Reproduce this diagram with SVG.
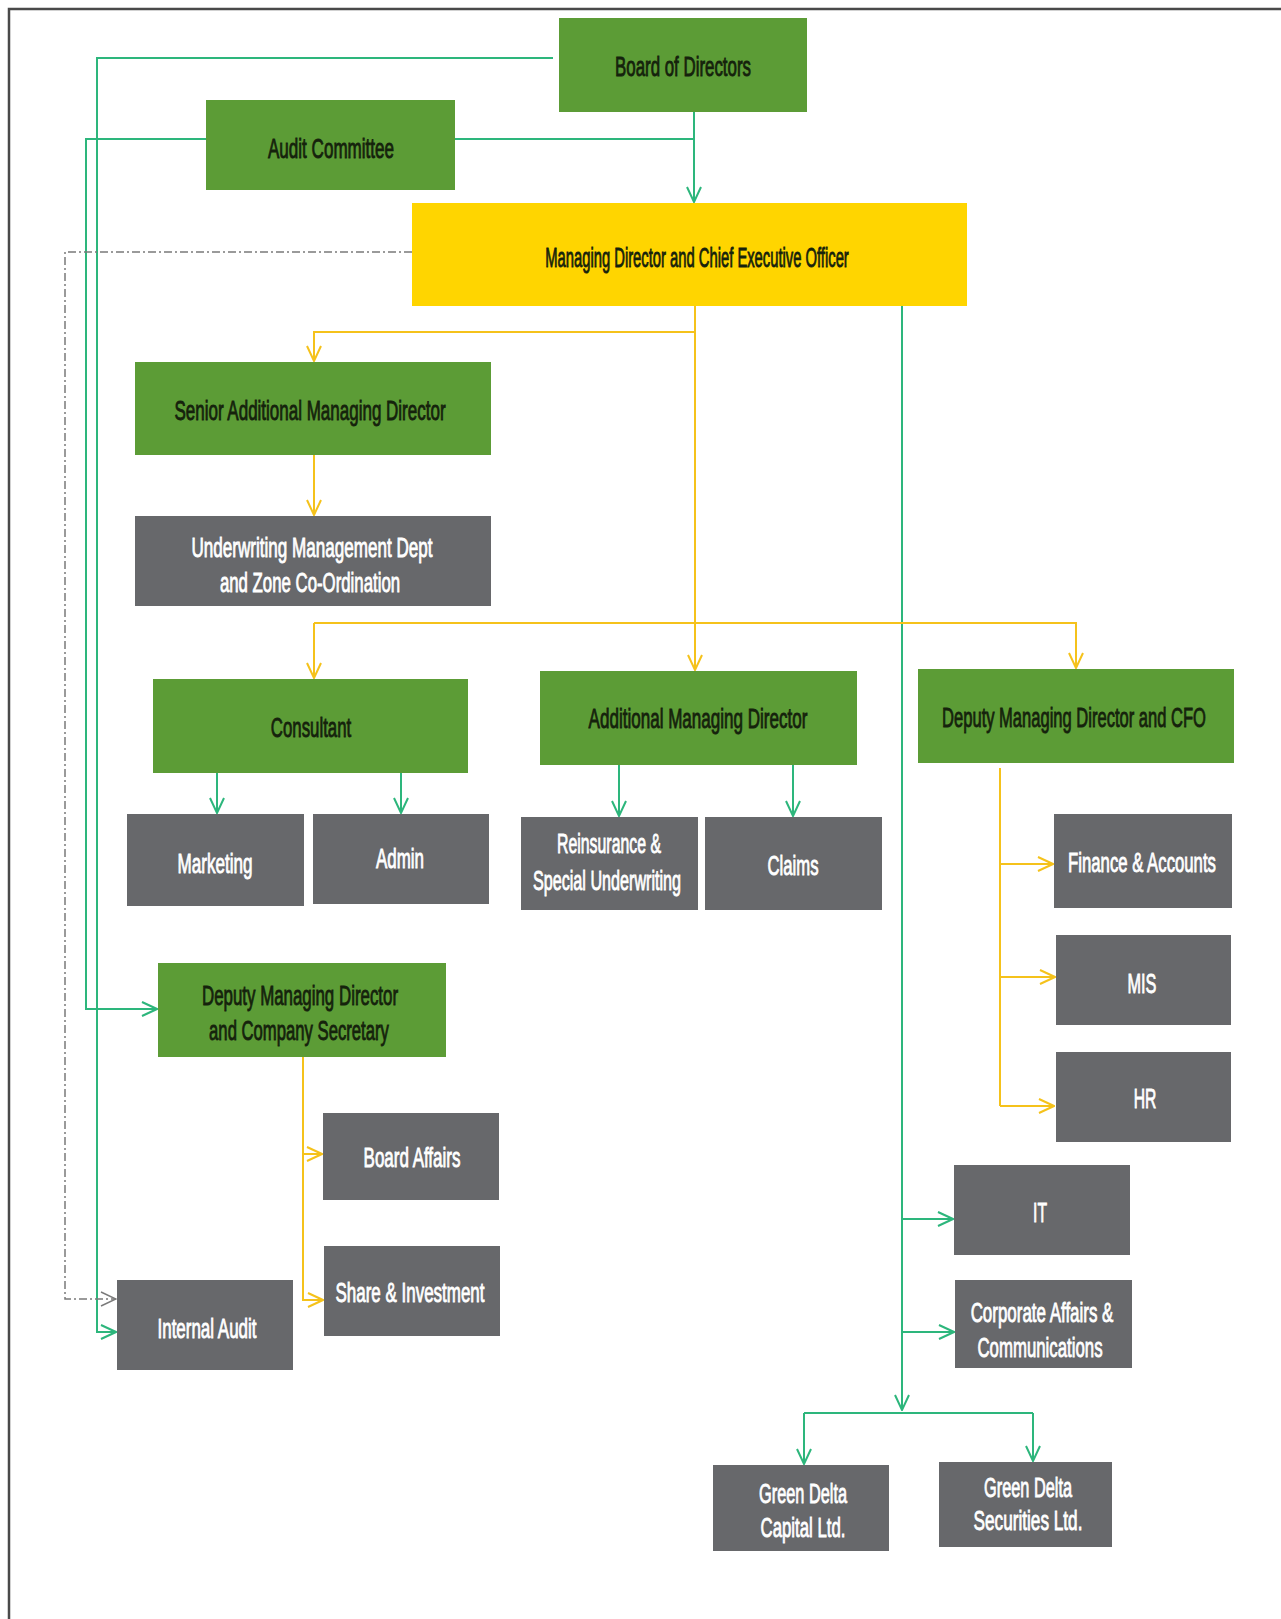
<svg xmlns="http://www.w3.org/2000/svg" width="1281" height="1619" viewBox="0 0 1281 1619">
<style>
.g rect{fill:#5c9c36}
.y rect{fill:#ffd500}
.d rect{fill:#67686b}
text{font-family:"Liberation Sans",Arial,sans-serif;font-size:28px;text-anchor:middle;stroke-width:0.9px}
.g text,.y text{fill:#15220c;stroke:#15220c}
.d text{fill:#ffffff;stroke:#ffffff}
.cg{fill:none;stroke:#2db67c;stroke-width:2}
.cy{fill:none;stroke:#f5c21b;stroke-width:2}
.cd{fill:none;stroke:#7a7a7a;stroke-width:1.5;stroke-dasharray:8 3 2 3}
</style>
<defs>
<marker id="ag" viewBox="0 0 17 16" refX="16" refY="8" markerWidth="17" markerHeight="16" markerUnits="userSpaceOnUse" orient="auto"><path d="M1,1 L16,8 L1,15" fill="none" stroke="#2db67c" stroke-width="2"/></marker>
<marker id="ay" viewBox="0 0 17 16" refX="16" refY="8" markerWidth="17" markerHeight="16" markerUnits="userSpaceOnUse" orient="auto"><path d="M1,1 L16,8 L1,15" fill="none" stroke="#f5c21b" stroke-width="2"/></marker>
<marker id="ad" viewBox="0 0 17 16" refX="16" refY="8" markerWidth="17" markerHeight="16" markerUnits="userSpaceOnUse" orient="auto"><path d="M1,1 L16,8 L1,15" fill="none" stroke="#7a7a7a" stroke-width="1.5"/></marker>
</defs>
<rect width="1281" height="1619" fill="#ffffff"/>
<path d="M9,1619 V9 H1281" fill="none" stroke="#4a4a4a" stroke-width="2.5"/>

<g id="connectors">
<path class="cg" d="M553,58 H97 V1332 H116" marker-end="url(#ag)"/>
<path class="cg" d="M206,139 H86 V1009 H157" marker-end="url(#ag)"/>
<path class="cg" d="M455,139 H694"/>
<path class="cg" d="M694,112 V202" marker-end="url(#ag)"/>
<path class="cg" d="M902,300 V1410" marker-end="url(#ag)"/>
<path class="cg" d="M902,1219 H953" marker-end="url(#ag)"/>
<path class="cg" d="M902,1332 H954" marker-end="url(#ag)"/>
<path class="cg" d="M804,1413 H1033"/>
<path class="cg" d="M804,1413 V1464" marker-end="url(#ag)"/>
<path class="cg" d="M1033,1413 V1461" marker-end="url(#ag)"/>
<path class="cg" d="M217,773 V813" marker-end="url(#ag)"/>
<path class="cg" d="M401,773 V813" marker-end="url(#ag)"/>
<path class="cg" d="M619,765 V816" marker-end="url(#ag)"/>
<path class="cg" d="M793,765 V816" marker-end="url(#ag)"/>

<path class="cy" d="M695,306 V670" marker-end="url(#ay)"/>
<path class="cy" d="M695,332 H314 V361" marker-end="url(#ay)"/>
<path class="cy" d="M314,455 V515" marker-end="url(#ay)"/>
<path class="cy" d="M314,623 H1076 V668" marker-end="url(#ay)"/>
<path class="cy" d="M314,623 V678" marker-end="url(#ay)"/>
<path class="cy" d="M1000,768 V1106"/>
<path class="cy" d="M1000,864 H1053" marker-end="url(#ay)"/>
<path class="cy" d="M1000,977 H1055" marker-end="url(#ay)"/>
<path class="cy" d="M1000,1106 H1054" marker-end="url(#ay)"/>
<path class="cy" d="M303,1057 V1300 H323" marker-end="url(#ay)"/>
<path class="cy" d="M303,1154 H322" marker-end="url(#ay)"/>

<path class="cd" d="M412,252 H65 V1299 H116" marker-end="url(#ad)"/>
</g>

<g id="board" class="g"><rect x="559" y="18" width="248" height="94"/><text transform="translate(683,76) scale(0.603,1)">Board of Directors</text></g>
<g id="audit-committee" class="g"><rect x="206" y="100" width="249" height="90"/><text transform="translate(331,158) scale(0.609,1)">Audit Committee</text></g>
<g id="ceo" class="y"><rect x="412" y="203" width="555" height="103"/><text transform="translate(697,267) scale(0.528,1)">Managing Director and Chief Executive Officer</text></g>
<g id="samd" class="g"><rect x="135" y="362" width="356" height="93"/><text transform="translate(310,420) scale(0.607,1)">Senior Additional Managing Director</text></g>
<g id="underwriting" class="d"><rect x="135" y="516" width="356" height="90"/><text transform="translate(312,557) scale(0.61,1)">Underwriting Management Dept</text><text transform="translate(310,592) scale(0.6,1)">and Zone Co-Ordination</text></g>
<g id="consultant" class="g"><rect x="153" y="679" width="315" height="94"/><text transform="translate(311,737) scale(0.6,1)">Consultant</text></g>
<g id="amd" class="g"><rect x="540" y="671" width="317" height="94"/><text transform="translate(698,728) scale(0.609,1)">Additional Managing Director</text></g>
<g id="dmd-cfo" class="g"><rect x="918" y="669" width="316" height="94"/><text transform="translate(1074,727) scale(0.591,1)">Deputy Managing Director and CFO</text></g>
<g id="marketing" class="d"><rect x="127" y="814" width="177" height="92"/><text transform="translate(215,873) scale(0.61,1)">Marketing</text></g>
<g id="admin" class="d"><rect x="313" y="814" width="176" height="90"/><text transform="translate(400,868) scale(0.605,1)">Admin</text></g>
<g id="reinsurance" class="d"><rect x="521" y="817" width="177" height="93"/><text transform="translate(609,853) scale(0.566,1)">Reinsurance &amp;</text><text transform="translate(607,890) scale(0.577,1)">Special Underwriting</text></g>
<g id="claims" class="d"><rect x="705" y="817" width="177" height="93"/><text transform="translate(793,875) scale(0.596,1)">Claims</text></g>
<g id="finance" class="d"><rect x="1054" y="814" width="178" height="94"/><text transform="translate(1142,872) scale(0.598,1)">Finance &amp; Accounts</text></g>
<g id="mis" class="d"><rect x="1056" y="935" width="175" height="90"/><text transform="translate(1142,993) scale(0.582,1)">MIS</text></g>
<g id="hr" class="d"><rect x="1056" y="1052" width="175" height="90"/><text transform="translate(1145,1108) scale(0.56,1)">HR</text></g>
<g id="dmd-cs" class="g"><rect x="158" y="963" width="288" height="94"/><text transform="translate(300,1005) scale(0.603,1)">Deputy Managing Director</text><text transform="translate(299,1040) scale(0.596,1)">and Company Secretary</text></g>
<g id="board-affairs" class="d"><rect x="323" y="1113" width="176" height="87"/><text transform="translate(412,1167) scale(0.606,1)">Board Affairs</text></g>
<g id="share" class="d"><rect x="324" y="1246" width="176" height="90"/><text transform="translate(410,1302) scale(0.606,1)">Share &amp; Investment</text></g>
<g id="internal-audit" class="d"><rect x="117" y="1280" width="176" height="90"/><text transform="translate(207,1338) scale(0.606,1)">Internal Audit</text></g>
<g id="it" class="d"><rect x="954" y="1165" width="176" height="90"/><text transform="translate(1040,1222) scale(0.56,1)">IT</text></g>
<g id="corporate" class="d"><rect x="955" y="1280" width="177" height="88"/><text transform="translate(1042,1322) scale(0.605,1)">Corporate Affairs &amp;</text><text transform="translate(1040,1357) scale(0.6,1)">Communications</text></g>
<g id="gd-capital" class="d"><rect x="713" y="1465" width="176" height="86"/><text transform="translate(803,1503) scale(0.583,1)">Green Delta</text><text transform="translate(803,1537) scale(0.6,1)">Capital Ltd.</text></g>
<g id="gd-securities" class="d"><rect x="939" y="1462" width="173" height="85"/><text transform="translate(1028,1497) scale(0.583,1)">Green Delta</text><text transform="translate(1028,1530) scale(0.614,1)">Securities Ltd.</text></g>
</svg>
